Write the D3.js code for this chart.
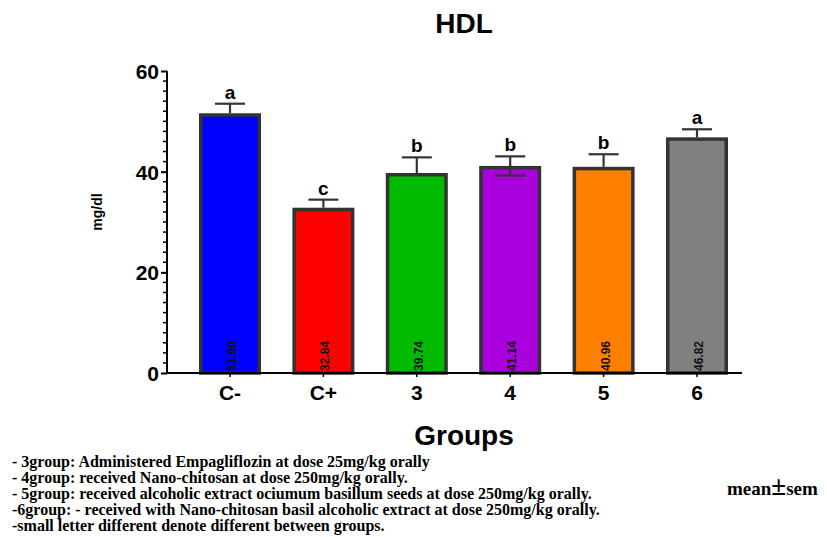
<!DOCTYPE html>
<html><head><meta charset="utf-8">
<script src="https://cdn.jsdelivr.net/npm/d3@7/dist/d3.min.js"></script>
<style>body{margin:0;background:#fff}svg{display:block}</style>
</head><body><svg id="c" width="827" height="537"></svg>
<script>
const categories = ["C-","C+","3","4","5","6"];
const means = [51.60, 32.84, 39.74, 41.14, 40.96, 46.82];
const sems = [1.9, 1.6, 3.1, 1.9, 2.5, 1.6];
const letters = ["a","c","b","b","b","a"];
const colors = ["#0000ff","#ff0000","#00bb00","#aa00dd","#ff8000","#808080"];
const yTicks = [0,20,40,60];
const notes = [
 "- 3group: Administered Empagliflozin at dose 25mg/kg orally",
 "- 4group: received Nano-chitosan at dose 250mg/kg orally.",
 "- 5group: received alcoholic extract ociumum basillum seeds at dose 250mg/kg orally.",
 "-6group: - received with Nano-chitosan basil alcoholic extract at dose 250mg/kg orally.",
 "-small letter different denote different between groups."
];

const svg = d3.select("#c");
const y = d3.scaleLinear().domain([0,60]).range([373,71]);
const x = d3.scaleBand().domain(categories).range([199,728]).paddingInner(0.336).paddingOuter(0);
const F = "Liberation Sans, Arial, sans-serif";

// title
svg.append("text").attr("x",464).attr("y",33).attr("text-anchor","middle")
  .attr("font-family",F).attr("font-weight","bold").attr("font-size",28).text("HDL");

// error bars (behind bars)
const eg = svg.append("g").attr("stroke","#333").attr("stroke-width",2.2);
categories.forEach((c,i)=>{
  const cx = x(c)+x.bandwidth()/2;
  const lo = i===3 ? means[i]-sems[i] : means[i];
  eg.append("line").attr("x1",cx).attr("x2",cx).attr("y1",y(means[i]+sems[i])).attr("y2",y(lo));
  eg.append("line").attr("x1",cx-15).attr("x2",cx+15).attr("y1",y(means[i]+sems[i])).attr("y2",y(means[i]+sems[i]));
});

// bars
svg.append("g").selectAll("rect").data(categories).join("rect")
  .attr("x",d=>x(d)+1.75).attr("width",x.bandwidth()-3.5)
  .attr("y",(d,i)=>y(means[i])+1.75).attr("height",(d,i)=>y(0)-y(means[i])-1.75)
  .attr("fill",(d,i)=>colors[i]).attr("stroke","#333").attr("stroke-width",3.5);

// lower whisker for group 4 visible over bar
categories.forEach((c,i)=>{
  if(i!==3) return;
  const cx = x(c)+x.bandwidth()/2;
  svg.append("line").attr("x1",cx).attr("x2",cx).attr("y1",y(means[i])).attr("y2",y(means[i]-sems[i])).attr("stroke","#333").attr("stroke-width",2.2);
  svg.append("line").attr("x1",cx-15).attr("x2",cx+15).attr("y1",y(means[i]-sems[i])).attr("y2",y(means[i]-sems[i])).attr("stroke","#333").attr("stroke-width",2.2);
});

// letters
svg.append("g").selectAll("text").data(categories).join("text")
  .attr("x",d=>x(d)+x.bandwidth()/2).attr("y",(d,i)=>y(means[i]+sems[i])-5)
  .attr("text-anchor","middle").attr("font-family",F).attr("font-weight","bold").attr("font-size",19)
  .text((d,i)=>letters[i]);

// value labels
svg.append("g").selectAll("text").data(categories).join("text")
  .attr("transform",d=>`translate(${x(d)+x.bandwidth()/2+6},371) rotate(-90)`)
  .attr("font-family",F).attr("font-weight","bold").attr("font-size",12).attr("fill","#111")
  .text((d,i)=>means[i].toFixed(2));

// y axis
const yAxis = d3.axisLeft(y).tickValues(yTicks).tickSize(6).tickFormat(d3.format("d"));
const ga = svg.append("g").attr("transform","translate(167,0)").call(yAxis);
ga.select(".domain").attr("stroke","#000").attr("stroke-width",2).attr("d",`M0,${y(60)}V${y(0)}`);
ga.selectAll(".tick line").attr("stroke","#000").attr("stroke-width",2);
ga.selectAll(".tick text").attr("font-family",F).attr("font-weight","bold").attr("font-size",21).attr("fill","#000").attr("x",-8).attr("dy","0.35em");
const minor = d3.range(0,61,2).filter(v=>v%20!==0);
svg.append("g").selectAll("line").data(minor).join("line")
  .attr("x1",163).attr("x2",167).attr("y1",d=>y(d)).attr("y2",d=>y(d)).attr("stroke","#000").attr("stroke-width",1.5);

// x axis
svg.append("line").attr("x1",166).attr("x2",742).attr("y1",y(0)).attr("y2",y(0)).attr("stroke","#000").attr("stroke-width",2);
const xAxis = d3.axisBottom(x).tickSize(4).tickSizeOuter(0);
const gx = svg.append("g").attr("transform",`translate(0,${y(0)})`).call(xAxis);
gx.select(".domain").remove();
gx.selectAll(".tick line").attr("stroke","#000").attr("stroke-width",1.5);
gx.selectAll(".tick text").attr("font-family",F).attr("font-weight","bold").attr("font-size",21).attr("fill","#000").attr("dy","0").attr("y",27);

// axis titles
svg.append("text").attr("transform","translate(102,212) rotate(-90)").attr("text-anchor","middle")
  .attr("font-family",F).attr("font-weight","bold").attr("font-size",14).text("mg/dl");
svg.append("text").attr("x",464).attr("y",445).attr("text-anchor","middle")
  .attr("font-family",F).attr("font-weight","bold").attr("font-size",28).text("Groups");

// notes
const S = "Liberation Serif, Times New Roman, serif";
svg.append("g").selectAll("text").data(notes).join("text")
  .attr("x",12).attr("y",(d,i)=>467+i*16)
  .attr("font-family",S).attr("font-weight","bold").attr("font-size",16)
  .text(d=>d);

const m = svg.append("text").attr("x",727).attr("y",495).attr("font-family",S).attr("font-weight","bold").attr("font-size",19);
m.append("tspan").text("mean");
m.append("tspan").attr("font-size",27).text("±");
m.append("tspan").text("sem");
</script></body></html>
